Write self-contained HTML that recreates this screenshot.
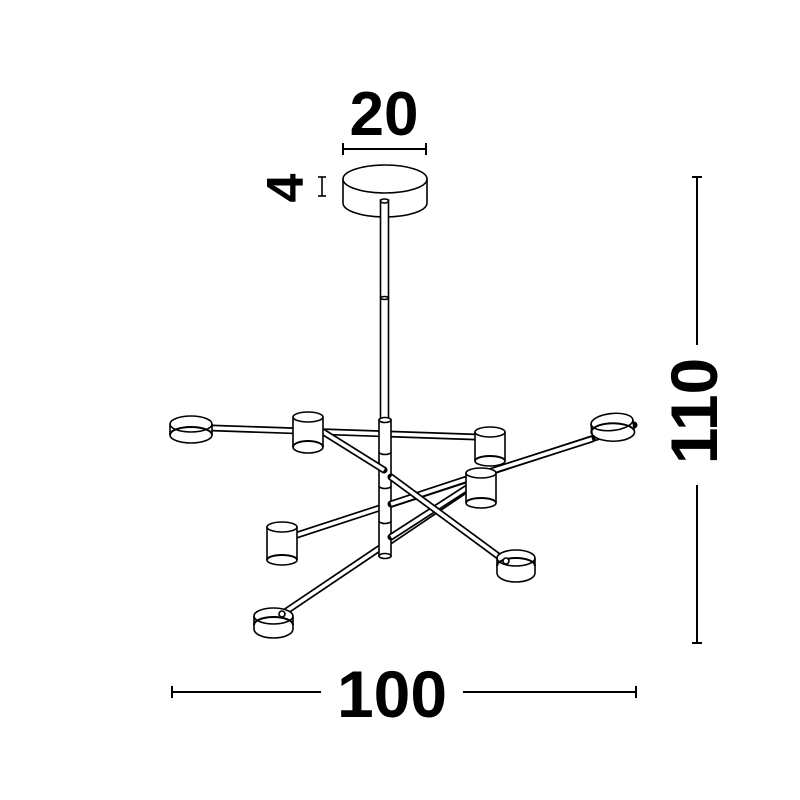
<!DOCTYPE html>
<html><head><meta charset="utf-8"><style>
html,body{margin:0;padding:0;background:#fff;}
svg{display:block;}
text{font-family:"Liberation Sans",Arial,sans-serif;font-weight:bold;fill:#000;}
</style></head><body>
<svg width="800" height="800" viewBox="0 0 800 800" xmlns="http://www.w3.org/2000/svg">
<g stroke="#000" stroke-width="1.6" fill="#fff">
<line x1="343" y1="149" x2="426" y2="149" stroke-width="2"/>
<line x1="343" y1="143" x2="343" y2="155" stroke-width="2"/>
<line x1="426" y1="143" x2="426" y2="155" stroke-width="2"/>
<line x1="322" y1="177" x2="322" y2="196" stroke-width="1.6"/>
<line x1="318" y1="177" x2="326" y2="177" stroke-width="1.6"/>
<line x1="318" y1="196" x2="326" y2="196" stroke-width="1.6"/>
<line x1="697" y1="177" x2="697" y2="345" stroke-width="2"/>
<line x1="697" y1="485" x2="697" y2="643" stroke-width="2"/>
<line x1="692" y1="177" x2="702" y2="177" stroke-width="2"/>
<line x1="692" y1="643" x2="702" y2="643" stroke-width="2"/>
<line x1="172" y1="692" x2="321" y2="692" stroke-width="2"/>
<line x1="463" y1="692" x2="636" y2="692" stroke-width="2"/>
<line x1="172" y1="686" x2="172" y2="698" stroke-width="2"/>
<line x1="636" y1="686" x2="636" y2="698" stroke-width="2"/>

<path d="M343 179 L343 203 A42 14 0 0 0 427 203 L427 179"/>
<ellipse cx="385" cy="179" rx="42" ry="14"/>
<rect x="380.5" y="200" width="8" height="222"/>
<ellipse cx="384.5" cy="201" rx="4" ry="2"/>
<ellipse cx="384.5" cy="298" rx="4" ry="1.5"/>

<g stroke-width="7" stroke-linecap="round"><line x1="212" y1="428" x2="476" y2="437"/></g>
<g stroke="#fff" stroke-width="3.6"><line x1="212" y1="428" x2="476" y2="437"/></g>
<g stroke-width="7" stroke-linecap="round"><line x1="297" y1="535" x2="634" y2="425"/></g>
<g stroke="#fff" stroke-width="3.6"><line x1="297" y1="535" x2="634" y2="425"/></g>
<g stroke-width="7" stroke-linecap="round"><line x1="282" y1="614" x2="472" y2="486"/></g>
<g stroke="#fff" stroke-width="3.6"><line x1="282" y1="614" x2="472" y2="486"/></g>

<rect x="379" y="420" width="12" height="136"/>
<ellipse cx="385" cy="420" rx="6" ry="2.5"/>
<path d="M379 452 A6 2.5 0 0 0 391 452" fill="none"/>
<path d="M379 486 A6 2.5 0 0 0 391 486" fill="none"/>
<path d="M379 521 A6 2.5 0 0 0 391 521" fill="none"/>
<ellipse cx="385" cy="556" rx="6" ry="2.5"/>
<g stroke-width="7" stroke-linecap="round"><line x1="391" y1="504" x2="470" y2="478"/><line x1="391" y1="537" x2="470" y2="486"/></g>
<g stroke="#fff" stroke-width="3.6"><line x1="391" y1="504" x2="470" y2="478"/><line x1="391" y1="537" x2="470" y2="486"/></g>

<g stroke-width="7" stroke-linecap="round"><line x1="320" y1="430" x2="384" y2="470"/><line x1="391" y1="477" x2="505" y2="561"/></g>
<g stroke="#fff" stroke-width="3.6"><line x1="320" y1="430" x2="384" y2="470"/><line x1="391" y1="477" x2="505" y2="561"/></g>

<path d="M170 424 L170 435 A21 8 0 0 0 212 435 L212 424"/>
<ellipse cx="191" cy="424" rx="21" ry="8"/>
<path d="M170 435 A21 8 0 0 1 212 435" fill="none" stroke-width="2"/>
<path d="M293 417 L293 447 A15 6 0 0 0 323 447 L323 417"/>
<ellipse cx="308" cy="417" rx="15" ry="5"/>
<path d="M293 447 A15 6 0 0 1 323 447" fill="none" stroke-width="2"/>
<path d="M475 432 L475 461 A15 5 0 0 0 505 461 L505 432"/>
<ellipse cx="490" cy="432" rx="15" ry="5"/>
<path d="M475 461 A15 5 0 0 1 505 461" fill="none" stroke-width="2"/>
<g stroke-width="7" stroke-linecap="round"><line x1="470" y1="478" x2="592" y2="439"/></g>
<g stroke="#fff" stroke-width="3.6"><line x1="470" y1="478" x2="592" y2="439"/></g>
<path d="M591 424 L592 434 A21 9 0 0 0 634 430 L633 420"/>
<ellipse cx="612" cy="422" rx="21" ry="8.5" transform="rotate(-6 612 422)"/>
<path d="M592 434 A21 8.5 0 0 1 634 430" fill="none" stroke-width="2"/>
<path d="M466 473 L466 503 A15 5 0 0 0 496 503 L496 473"/>
<ellipse cx="481" cy="473" rx="15" ry="5"/>
<path d="M466 503 A15 5 0 0 1 496 503" fill="none" stroke-width="2"/>
<path d="M267 527 L267 560 A15 5 0 0 0 297 560 L297 527"/>
<ellipse cx="282" cy="527" rx="15" ry="5"/>
<path d="M267 560 A15 5 0 0 1 297 560" fill="none" stroke-width="2"/>
<path d="M497 558 L497 573 A19 9 0 0 0 535 573 L535 558"/>
<ellipse cx="516" cy="558" rx="19" ry="8"/>
<path d="M497 566 A19 8 0 0 1 535 566" fill="none" stroke-width="2"/>
<circle cx="506" cy="561" r="3"/>
<path d="M254 616 L254 629 A19.5 9 0 0 0 293 629 L293 616"/>
<ellipse cx="273.5" cy="616" rx="19.5" ry="8"/>
<path d="M254 625 A19.5 8 0 0 1 293 625" fill="none" stroke-width="2"/>
<circle cx="282" cy="614" r="3"/>
</g>

<text x="384" y="135" font-size="62" text-anchor="middle">20</text>
<text x="0" y="0" font-size="52" text-anchor="middle" transform="translate(303 188) rotate(-90)">4</text>
<text x="0" y="0" font-size="66" text-anchor="middle" transform="translate(717 411) rotate(-90)">110</text>
<text x="392" y="717" font-size="66" text-anchor="middle">100</text>
</svg>
</body></html>
